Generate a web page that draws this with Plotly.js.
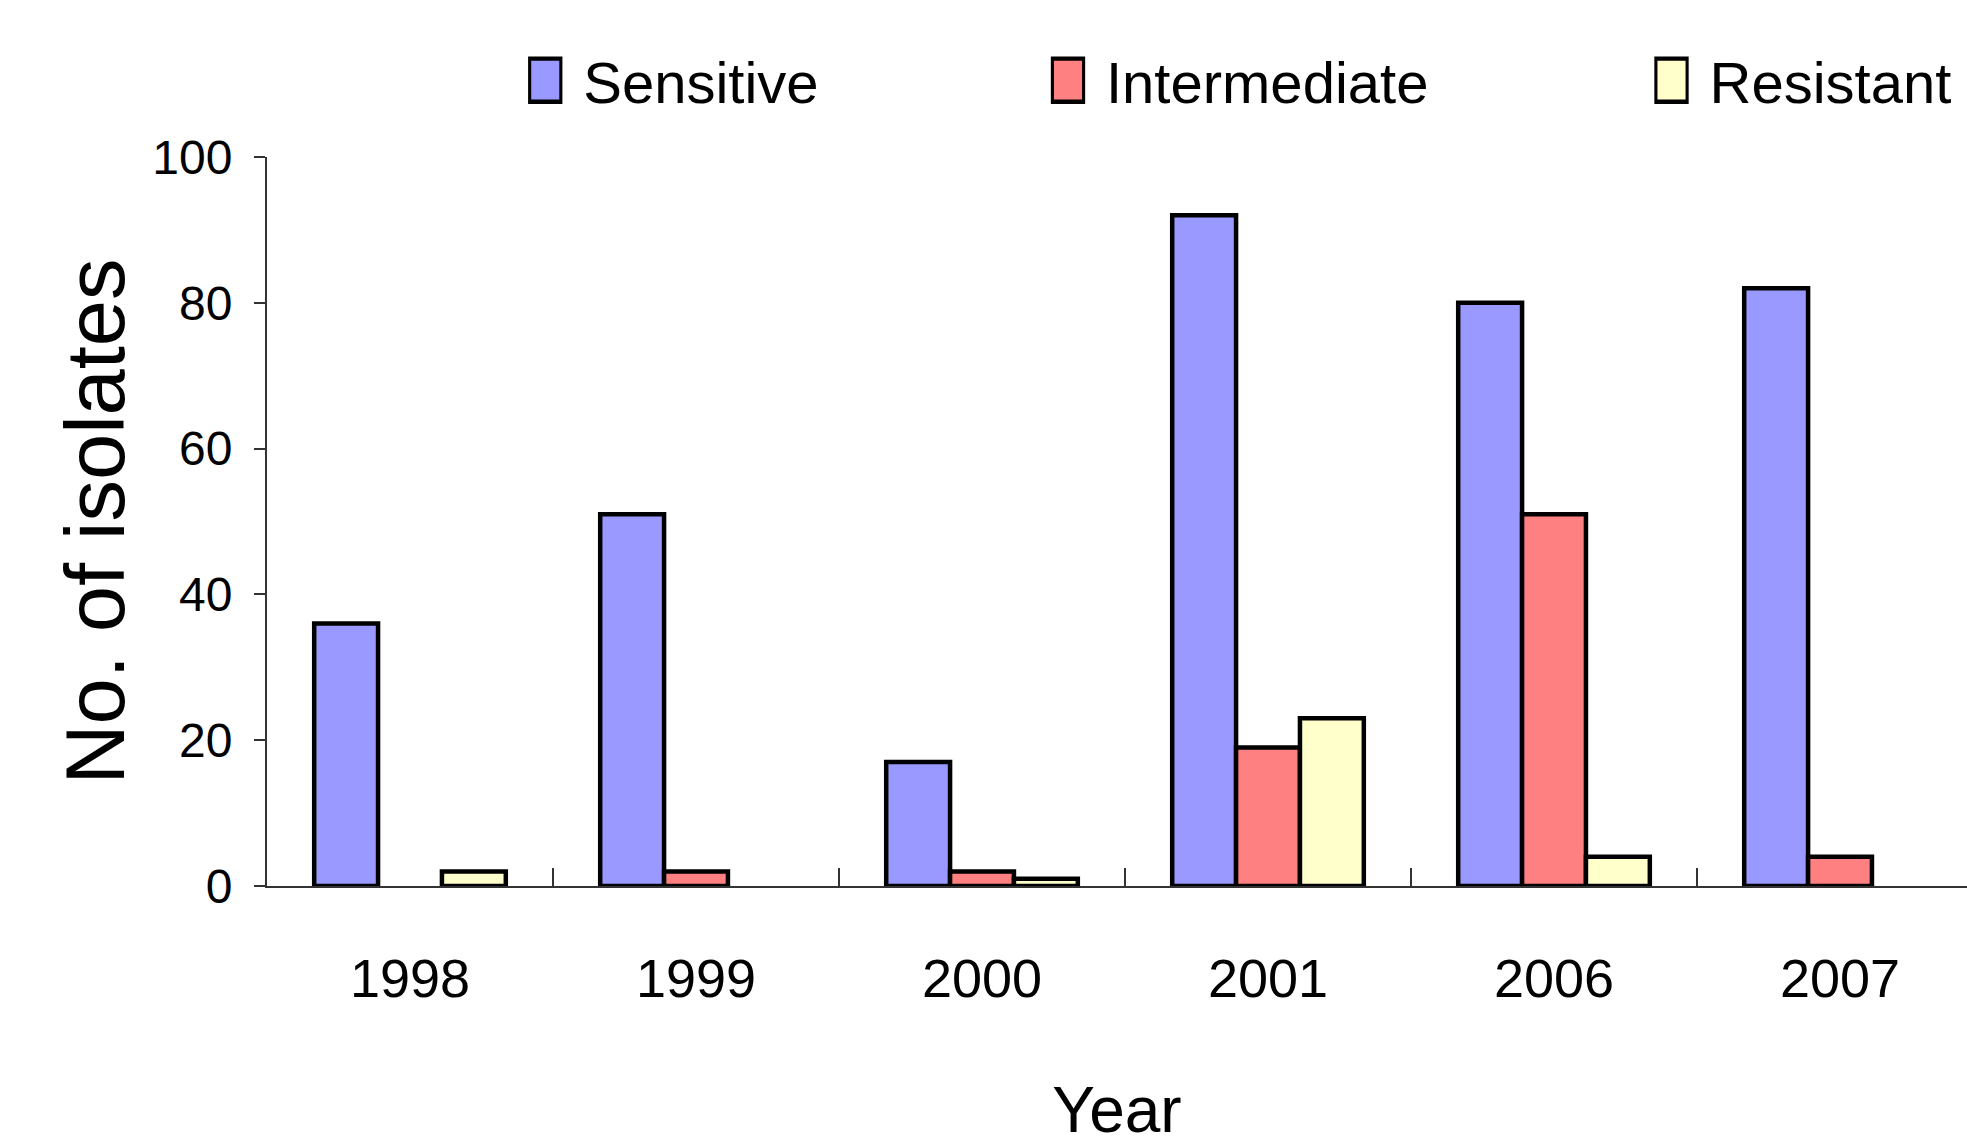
<!DOCTYPE html>
<html>
<head>
<meta charset="utf-8">
<script src="https://cdn.plot.ly/plotly-3.0.1.min.js"></script>
<style>html,body{margin:0;padding:0;background:#fff;}#chart{width:1967px;height:1146px;}</style>
</head>
<body>
<div id="chart"></div>
<script>
const years = ["1998", "1999", "2000", "2001", "2006", "2007"];
const sensitive = [36, 51, 17, 92, 80, 82];
const intermediate = [0, 2, 2, 19, 51, 4];
const resistant = [2, 0, 1, 23, 4, 0];
const seriesNames = ["Sensitive", "Intermediate", "Resistant"];
const seriesColors = ["#9999FF", "#FF8080", "#FFFFCC"];
const yTicks = [0, 20, 40, 60, 80, 100];

const seriesValues = [sensitive, intermediate, resistant];
const legendIds = ["legend", "legend2", "legend3"];
const legendX = [0.1625, 0.470, 0.825];

const traces = seriesValues.map((vals, i) => ({
  type: "bar",
  name: seriesNames[i],
  x: years,
  y: vals,
  legend: legendIds[i],
  marker: {
    color: seriesColors[i],
    line: {color: "#000000", width: vals.map(v => v > 0 ? 4.5 : 0)}
  }
}));

const legendFont = {family: "Liberation Sans, Arial, sans-serif", size: 58, color: "#000"};
function legendBox(x) {
  return {orientation: "h", x: x, xanchor: "left", y: 1.105, yanchor: "middle",
          font: legendFont, bgcolor: "rgba(0,0,0,0)", borderwidth: 0};
}

const layout = {
  width: 1967,
  height: 1146,
  margin: {l: 267, r: 0, t: 157, b: 260},
  paper_bgcolor: "#ffffff",
  plot_bgcolor: "#ffffff",
  barmode: "group",
  bargap: 0.33,
  bargroupgap: 0,
  showlegend: true,
  legend: legendBox(legendX[0]),
  legend2: legendBox(legendX[1]),
  legend3: legendBox(legendX[2]),
  xaxis: {
    type: "category",
    range: [-0.5, 5.444],
    showline: true, linecolor: "#333333", linewidth: 2,
    ticks: "inside", tickson: "boundaries", ticklen: 18, tickwidth: 2, tickcolor: "#333333",
    showgrid: false, zeroline: false,
    ticklabelstandoff: 44,
    tickfont: {family: "Liberation Sans, Arial, sans-serif", size: 54, color: "#000"},
    title: {text: "Year", standoff: 81, font: {family: "Liberation Sans, Arial, sans-serif", size: 64, color: "#000"}}
  },
  yaxis: {
    range: [0, 100],
    tickvals: yTicks,
    showline: true, linecolor: "#333333", linewidth: 2,
    ticks: "outside", ticklen: 11, tickwidth: 2, tickcolor: "#333333",
    showgrid: false, zeroline: false,
    ticklabelstandoff: 12,
    tickfont: {family: "Liberation Sans, Arial, sans-serif", size: 48, color: "#000"},
    title: {text: "No. of isolates", standoff: 0, font: {family: "Liberation Sans, Arial, sans-serif", size: 83, color: "#000"}}
  }
};

Plotly.newPlot("chart", traces, layout, {displayModeBar: false, staticPlot: true}).then(function () {
  document.querySelectorAll("g.legend, g.legend2, g.legend3").forEach(function (g) {
    if (g.hasAttribute("clip-path")) g.removeAttribute("clip-path");
    g.querySelectorAll("[clip-path]").forEach(function (e) { e.removeAttribute("clip-path"); });
  });
  document.querySelectorAll(".legendpoints path").forEach(function (p) {
    const t = p.getAttribute("transform") || "";
    p.setAttribute("transform", t + " translate(-18,0) scale(2.6,3.6)");
    p.style.stroke = "#000000";
    p.style.strokeOpacity = "1";
    p.style.strokeWidth = "1.2px";
  });
});
</script>
</body>
</html>
